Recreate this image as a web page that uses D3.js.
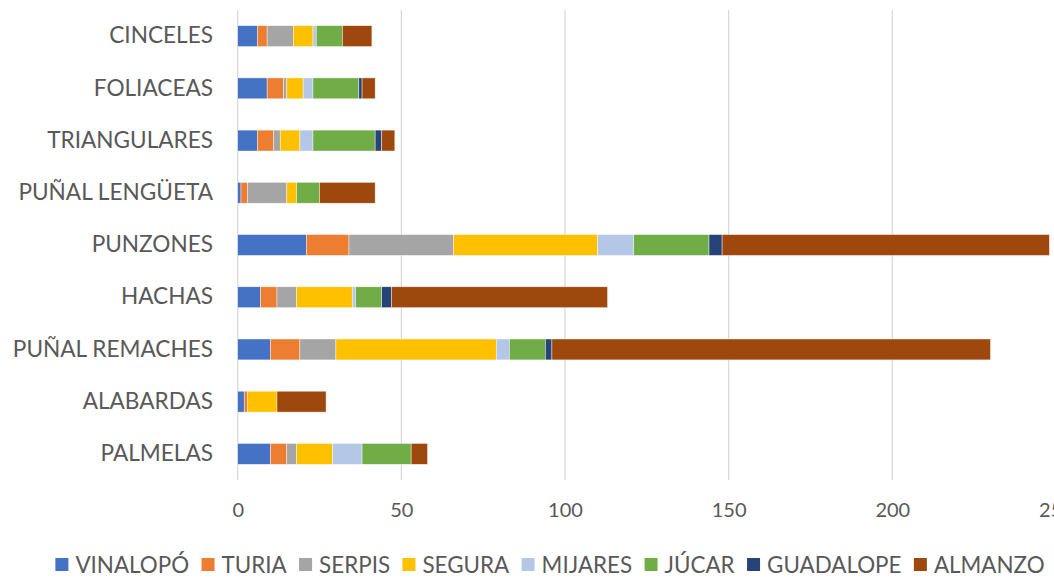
<!DOCTYPE html>
<html>
<head>
<meta charset="utf-8">
<script src="https://cdn.jsdelivr.net/npm/d3@7"></script>
<style>
  html, body { margin: 0; padding: 0; background: #fff; }
  svg { display: block; }
  text { font-family: Lato, "Open Sans", sans-serif; fill: #595959; }
</style>
</head>
<body>
<svg id="chart" width="1054" height="579"></svg>
<script>
// Categories top to bottom
const categories = ["CINCELES", "FOLIACEAS", "TRIANGULARES", "PUÑAL LENGÜETA", "PUNZONES",
                    "HACHAS", "PUÑAL REMACHES", "ALABARDAS", "PALMELAS"];

// Counts per river basin, in category order
const vinalopo  = [6, 9, 6, 1, 21, 7, 10, 2, 10];
const turia     = [3, 5, 5, 2, 13, 5, 9, 1, 5];
const serpis    = [8, 1, 2, 12, 32, 6, 11, 0, 3];
const segura    = [6, 5, 6, 3, 44, 17, 49, 9, 11];
const mijares   = [1, 3, 4, 0, 11, 1, 4, 0, 9];
const jucar     = [8, 14, 19, 7, 23, 8, 11, 0, 15];
const guadalope = [0, 1, 2, 0, 4, 3, 2, 0, 0];
const almanzo   = [9, 4, 4, 17, 100, 66, 134, 15, 5];

const seriesNames = ["VINALOPÓ", "TURIA", "SERPIS", "SEGURA", "MIJARES", "JÚCAR", "GUADALOPE", "ALMANZO"];
const seriesValues = [vinalopo, turia, serpis, segura, mijares, jucar, guadalope, almanzo];
const seriesColors = ["#4472C4", "#ED7D31", "#A5A5A5", "#FFC000", "#B4C7E7", "#70AD47", "#264478", "#9E480E"];

const xTicks = [0, 50, 100, 150, 200, 250];

const svg = d3.select("#chart");

const plot = { left: 237.7, top: 10, bottom: 480 };
const x = d3.scaleLinear().domain([0, 250]).range([plot.left, plot.left + 250 * 3.273]);
const y = d3.scaleBand().domain(categories).range([plot.top, plot.bottom])
  .paddingInner(0.6).paddingOuter(0.3);

// Rows for the stack layout
const rows = categories.map((c, i) => {
  const r = { category: c };
  seriesNames.forEach((s, j) => { r[s] = seriesValues[j][i]; });
  return r;
});
const stacked = d3.stack().keys(seriesNames)(rows);
const color = d3.scaleOrdinal().domain(seriesNames).range(seriesColors);

// Vertical gridlines
svg.append("g").selectAll("line").data(xTicks).join("line")
  .attr("x1", d => x(d)).attr("x2", d => x(d))
  .attr("y1", plot.top).attr("y2", plot.bottom)
  .attr("stroke", "#d9d9d9").attr("stroke-width", 1.3);

// Stacked bars
svg.append("g").selectAll("g").data(stacked).join("g")
  .attr("fill", d => color(d.key))
  .selectAll("rect").data(d => d.filter(p => p[1] > p[0])).join("rect")
  .attr("x", d => x(d[0]))
  .attr("y", d => y(d.data.category))
  .attr("width", d => x(d[1]) - x(d[0]))
  .attr("height", y.bandwidth())
  .attr("stroke", "#fff").attr("stroke-width", 0.6).attr("stroke-opacity", 0.7);

// Category labels
const yAxis = d3.axisLeft(y).tickSize(0).tickPadding(0);
svg.append("g").attr("transform", `translate(213,0)`).call(yAxis)
  .call(g => g.select(".domain").remove())
  .selectAll("text").attr("font-size", 22.6).attr("fill", "#595959")
  .attr("font-family", "Lato, sans-serif");

// Value axis labels
const xAxis = d3.axisBottom(x).tickValues(xTicks).tickSize(0).tickPadding(0);
svg.append("g").attr("transform", `translate(0,503)`).call(xAxis)
  .call(g => g.select(".domain").remove())
  .selectAll("text").attr("font-size", 20).attr("fill", "#595959")
  .attr("font-family", "Lato, sans-serif");

// Legend
const legend = svg.append("g");
const items = legend.selectAll("g").data(seriesNames).join("g");
items.append("rect").attr("width", 13).attr("height", 13).attr("y", -7)
  .attr("fill", d => color(d));
items.append("text").attr("x", 20).attr("dy", "0.35em")
  .attr("font-size", 22.4).text(d => d);
let offset = 0;
const positions = [];
items.each(function () {
  const w = 20 + this.querySelector("text").getComputedTextLength();
  positions.push(offset);
  offset += w + 12.4;
});
const total = offset - 12.4;
const start = 550 - total / 2;
items.attr("transform", (d, i) => `translate(${start + positions[i]},565)`);
</script>
</body>
</html>
